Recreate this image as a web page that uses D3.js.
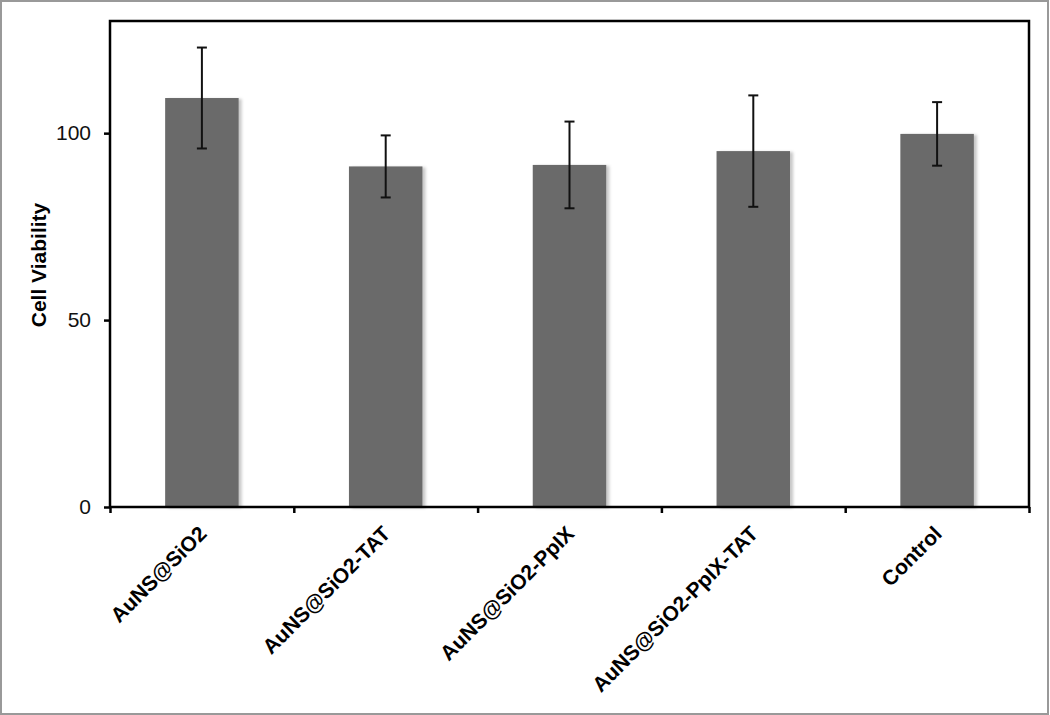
<!DOCTYPE html>
<html>
<head>
<meta charset="utf-8">
<script src="https://cdn.jsdelivr.net/npm/d3@7"></script>
<style>
  body { margin: 0; background: #fff; }
  svg { display: block; font-family: "Liberation Sans", Arial, sans-serif; }
</style>
</head>
<body>
<svg width="1050" height="715"></svg>
<script>
const categories = ["AuNS@SiO2", "AuNS@SiO2-TAT", "AuNS@SiO2-PpIX", "AuNS@SiO2-PpIX-TAT", "Control"];
const viability = [109.4, 91.1, 91.5, 95.2, 99.8];
const errors = [13.5, 8.3, 11.6, 14.9, 8.5];
const yTicks = [0, 50, 100];

const svg = d3.select("svg");
const plotL = 110, plotR = 1029, plotT = 21, plotB = 507;

// page border
svg.append("rect")
  .attr("x", 1).attr("y", 1).attr("width", 1047).attr("height", 713)
  .attr("fill", "none").attr("stroke", "#999").attr("stroke-width", 2);

const defs = svg.append("defs");
defs.append("filter").attr("id", "shadow")
  .attr("x", "-10%").attr("y", "-10%").attr("width", "130%").attr("height", "120%")
  .append("feDropShadow")
  .attr("dx", 3).attr("dy", 1).attr("stdDeviation", 1.5)
  .attr("flood-color", "#000").attr("flood-opacity", 0.22);

const x = d3.scaleBand()
  .domain(categories)
  .range([plotL, plotR])
  .paddingInner(0.6)
  .paddingOuter(0.3);

const xEdge = d3.scaleLinear().domain([0, categories.length]).range([plotL, plotR]);

const y = d3.scaleLinear().domain([0, 130]).range([plotB, plotT]);

const data = categories.map((c, i) => ({cat: c, v: viability[i], e: errors[i]}));

// bars
svg.append("g")
  .selectAll("rect")
  .data(data)
  .join("rect")
  .attr("x", d => x(d.cat))
  .attr("y", d => y(d.v))
  .attr("width", x.bandwidth())
  .attr("height", d => y(0) - y(d.v))
  .attr("fill", "#6b6b6b")
  .attr("filter", "url(#shadow)");

// error bars
const eb = svg.append("g")
  .attr("stroke", "#111")
  .attr("stroke-width", 2)
  .selectAll("g")
  .data(data)
  .join("g")
  .attr("transform", d => `translate(${x(d.cat) + x.bandwidth() / 2},0)`);

eb.append("line")
  .attr("y1", d => y(d.v - d.e))
  .attr("y2", d => y(d.v + d.e));
eb.append("line")
  .attr("x1", -5).attr("x2", 5)
  .attr("y1", d => y(d.v + d.e)).attr("y2", d => y(d.v + d.e));
eb.append("line")
  .attr("x1", -5).attr("x2", 5)
  .attr("y1", d => y(d.v - d.e)).attr("y2", d => y(d.v - d.e));

// frame
svg.append("rect")
  .attr("x", plotL).attr("y", plotT)
  .attr("width", plotR - plotL).attr("height", plotB - plotT)
  .attr("fill", "none").attr("stroke", "#000").attr("stroke-width", 2.5);

// y axis
const yAxis = svg.append("g")
  .attr("transform", `translate(${plotL},0)`)
  .call(d3.axisLeft(y).tickValues(yTicks).tickSize(6).tickPadding(13));
yAxis.select(".domain").remove();
yAxis.selectAll(".tick line").attr("stroke", "#000").attr("stroke-width", 2.5);
yAxis.selectAll(".tick text")
  .attr("font-size", 21)
  .attr("font-family", "Liberation Sans, Arial, sans-serif")
  .attr("fill", "#111");

// x axis ticks at category edges
const xAxis = svg.append("g")
  .attr("transform", `translate(0,${plotB})`)
  .call(d3.axisBottom(xEdge).tickValues(d3.range(categories.length + 1)).tickSize(6).tickFormat(""));
xAxis.select(".domain").remove();
xAxis.selectAll(".tick line").attr("stroke", "#000").attr("stroke-width", 2.5);

// category labels
svg.append("g")
  .selectAll("text")
  .data(categories)
  .join("text")
  .attr("transform", d => `translate(${x(d) + x.bandwidth() / 2 + 6},535) rotate(-45)`)
  .attr("text-anchor", "end")
  .attr("font-size", 21)
  .attr("font-weight", "bold")
  .attr("fill", "#000")
  .text(d => d);

// y axis title
svg.append("text")
  .attr("transform", `translate(46,${(y(0) + y(130)) / 2 + 1}) rotate(-90)`)
  .attr("text-anchor", "middle")
  .attr("font-size", 21)
  .attr("font-weight", "bold")
  .attr("fill", "#000")
  .text("Cell Viability");
</script>
</body>
</html>
